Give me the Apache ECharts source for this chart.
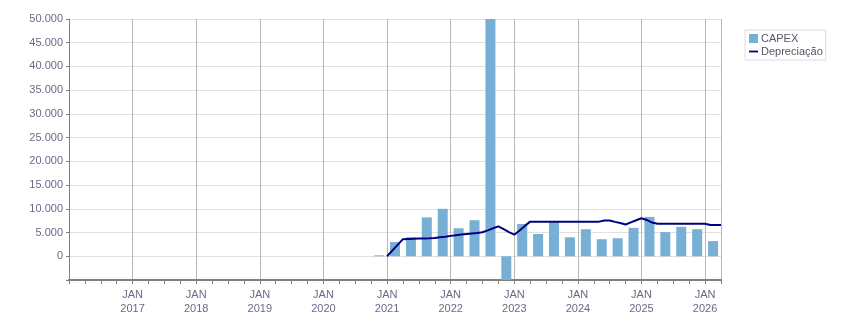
<!DOCTYPE html>
<html>
<head>
<meta charset="utf-8">
<script src="https://cdn.jsdelivr.net/npm/echarts@6/dist/echarts.min.js"></script>
<style>
html,body{margin:0;padding:0;background:#fff;}
#chart{width:851px;height:313px;}
</style>
</head>
<body>
<div id="chart"></div>
<script>
// ---- data ----
var capexQuarters = ['2020-Q4','2021-Q1','2021-Q2','2021-Q3','2021-Q4','2022-Q1','2022-Q2','2022-Q3','2022-Q4',
  '2023-Q1','2023-Q2','2023-Q3','2023-Q4','2024-Q1','2024-Q2','2024-Q3','2024-Q4',
  '2025-Q1','2025-Q2','2025-Q3','2025-Q4','2026-Q1'];
var capexValues = [200, 3000, 4000, 8200, 10000, 5900, 7600, 50300, -5000,
  6800, 4700, 7200, 4000, 5700, 3600, 3800, 6000,
  8300, 5100, 6200, 5700, 3200];

var depMonths = ['2021-01','2021-04','2021-05','2021-06','2021-07','2021-08','2021-09','2021-10','2021-11','2021-12',
  '2022-01','2022-02','2022-03','2022-04','2022-05','2022-06','2022-07','2022-08','2022-09','2022-10','2022-11','2022-12',
  '2023-01','2023-02','2023-03','2023-04','2023-05','2023-06','2023-07','2023-08','2023-09','2023-10','2023-11','2023-12',
  '2024-01','2024-02','2024-03','2024-04','2024-05','2024-06','2024-07','2024-08','2024-09','2024-10','2024-11','2024-12',
  '2025-01','2025-02','2025-03','2025-04','2025-05','2025-06','2025-07','2025-08','2025-09','2025-10','2025-11','2025-12',
  '2026-01','2026-02','2026-03','2026-04'];
var depValues = [0, 3600, 3650, 3700, 3750, 3750, 3780, 3850, 4000, 4100,
  4300, 4450, 4600, 4700, 4800, 4900, 5050, 5450, 5900, 6300, 5700, 5100,
  4550, 5450, 6400, 7300, 7300, 7300, 7300, 7300, 7300, 7300, 7300, 7300,
  7300, 7300, 7300, 7300, 7300, 7550, 7550, 7250, 7000, 6700, 7150, 7600,
  8000, 7650, 7100, 6850, 6850, 6850, 6850, 6850, 6850, 6850, 6850, 6850,
  6850, 6600, 6600, 6600];

var yearLabels = ['2017','2018','2019','2020','2021','2022','2023','2024','2025','2026'];
var monthLabel = 'JAN';
var seriesNames = ['CAPEX', 'Depreciação'];

// ---- helpers: months since Jan 2016 ----
var BASE_YEAR = 2016;
function monthIndex(s){ var p = s.split('-'); return (parseInt(p[0],10)-BASE_YEAR)*12 + (parseInt(p[1],10)-1); }
function quarterMid(s){ var p = s.split('-Q'); return (parseInt(p[0],10)-BASE_YEAR)*12 + (parseInt(p[1],10)-1)*3 + 1.5; }

var barData = capexQuarters.map(function(q,i){ return [quarterMid(q), capexValues[i]]; });
var lineData = depMonths.map(function(m,i){ return [monthIndex(m), depValues[i]]; });

function fmtThousands(v){
  var s = Math.abs(v).toString().replace(/\B(?=(\d{3})+(?!\d))/g, '.');
  return (v < 0 ? '-' : '') + s;
}

var labelColor = '#6a6a86';
var FONT = 'Liberation Sans';
var xMax = monthIndex('2026-04');

var chart = echarts.init(document.getElementById('chart'), null, {renderer:'canvas'});
chart.setOption({
  animation: false,
  backgroundColor: '#ffffff',
  textStyle: {fontFamily: FONT},
  grid: {left: 69, right: 130, top: 19, bottom: 33, show: false, containLabel: false, outerBoundsMode: 'none'},
  legend: {
    orient: 'vertical',
    left: 745, top: 30,
    padding: [3, 3, 3, 4],
    itemGap: 2,
    itemWidth: 9, itemHeight: 9,
    borderColor: '#dddddd', borderWidth: 1,
    textStyle: {fontFamily: FONT, fontSize: 11, color: '#555566', padding: [0,0,0,-2]},
    data: [
      {name: seriesNames[0], icon: 'rect'},
      {name: seriesNames[1], icon: 'path://M0,0 L10,0 L10,2 L0,2 Z'}
    ]
  },
  xAxis: [{
    type: 'value',
    min: 0, max: xMax, interval: 12,
    axisLine: {show: true, onZero: false, lineStyle: {color: '#808080', width: 2}},
    axisTick: {show: false},
    splitLine: {show: true, lineStyle: {color: '#b8b8b8', width: 1}},
    axisLabel: {
      show: true, margin: 8,
      fontFamily: FONT, fontSize: 11, color: labelColor, lineHeight: 14,
      formatter: function(v){
        if (v % 12 !== 0 || v === 0) return '';
        var idx = v/12 - 1;
        return monthLabel + '\n' + yearLabels[idx];
      }
    }
  },{
    type: 'value',
    position: 'bottom',
    min: 0, max: xMax, interval: 3,
    axisLine: {show: false, onZero: false},
    axisTick: {show: true, length: 4, lineStyle: {color: '#808080'}},
    splitLine: {show: false},
    axisLabel: {show: false}
  }],
  yAxis: {
    type: 'value',
    min: -5000, max: 50000, interval: 5000,
    axisLine: {show: true, onZero: false, lineStyle: {color: '#808080', width: 1}},
    axisTick: {show: true, length: 3, lineStyle: {color: '#808080'}},
    splitLine: {show: true, lineStyle: {color: '#e0e0e0', width: 1}},
    axisLabel: {
      fontFamily: FONT, fontSize: 11, color: labelColor, margin: 6,
      formatter: function(v){ return v < 0 ? '' : fmtThousands(v); }
    }
  },
  series: [{
    name: seriesNames[0],
    type: 'bar',
    xAxisIndex: 0,
    barWidth: 10,
    itemStyle: {color: '#77b0d4'},
    data: barData
  },{
    name: seriesNames[1],
    type: 'line',
    xAxisIndex: 0,
    showSymbol: false,
    symbol: 'none',
    lineStyle: {color: '#000080', width: 2},
    itemStyle: {color: '#000080'},
    data: lineData
  }]
});
</script>
</body>
</html>
